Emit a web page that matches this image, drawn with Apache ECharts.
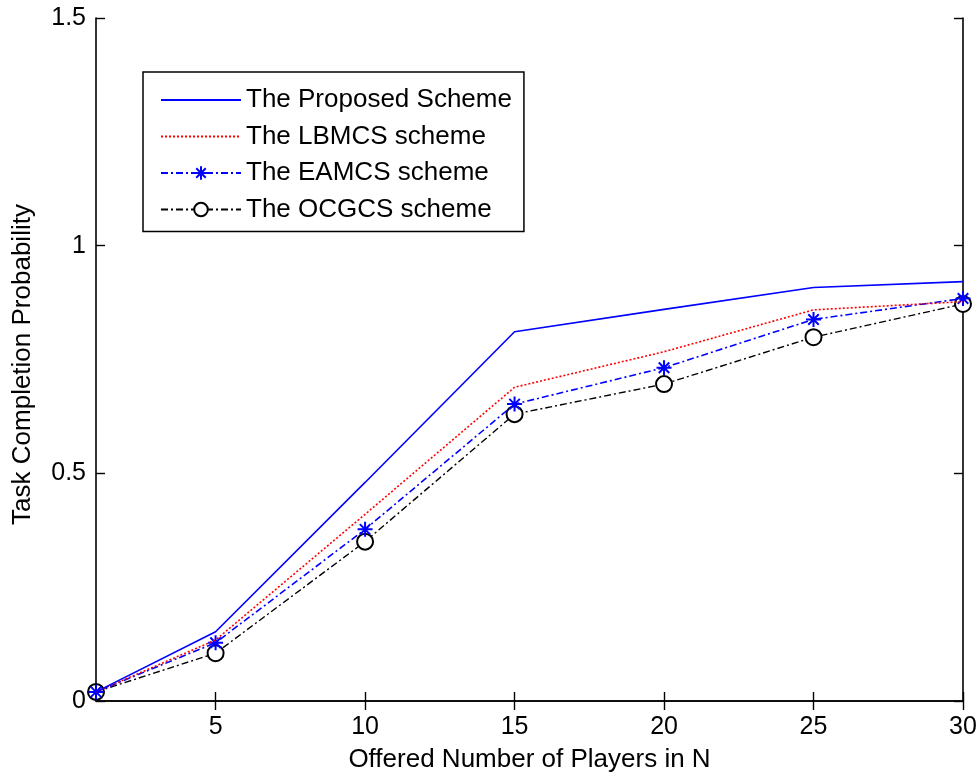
<!DOCTYPE html>
<html>
<head>
<meta charset="utf-8">
<script src="https://cdn.jsdelivr.net/npm/echarts@6/dist/echarts.min.js"></script>
<style>html,body{margin:0;padding:0;background:#fff;}#c{width:980px;height:775px;}</style>
</head>
<body>
<div id="c"></div>
<script>
const players = [1, 5, 10, 15, 20, 25, 30];
const proposed = [0.02, 0.152, 0.48, 0.811, 0.86, 0.908, 0.921];
const lbmcs = [0.02, 0.134, 0.41, 0.689, 0.767, 0.859, 0.877];
const eamcs = [0.02, 0.128, 0.377, 0.652, 0.732, 0.838, 0.884];
const ocgcs = [0.02, 0.105, 0.350, 0.630, 0.696, 0.799, 0.872];
const xTicks = [5, 10, 15, 20, 25, 30];
const yTicks = [0, 0.5, 1, 1.5];
const names = ['The Proposed Scheme', 'The LBMCS scheme', 'The EAMCS scheme', 'The OCGCS scheme'];

const pair = (ys) => players.map((x, i) => [x, ys[i]]);
const font = 'Liberation Sans, Arial, Helvetica, sans-serif';
const starPath = 'path://M0,-10L0,10M-10,0L10,0M-7,-7L7,7M-7,7L7,-7';

const axisLine = { show: true, lineStyle: { color: '#000', width: 1.6 } };
const tickIn = { show: true, inside: true, length: 9, lineStyle: { color: '#000', width: 1.4 } };
const hideSym = { color: 'rgba(0,0,0,0)', borderColor: 'rgba(0,0,0,0)', borderWidth: 0, opacity: 0 };

const chart = echarts.init(document.getElementById('c'), null, { renderer: 'canvas' });
chart.setOption({
  animation: false,
  backgroundColor: '#fff',
  grid: { left: 96, top: 18, right: 17, bottom: 74, outerBoundsMode: 'none', containLabel: false },
  legend: {
    orient: 'vertical',
    left: 143, top: 72,
    padding: [15, 12, 9, 17],
    itemWidth: 80, itemHeight: 17, itemGap: 10.5,
    borderColor: '#000', borderWidth: 1.5,
    backgroundColor: '#fff',
    textStyle: { fontFamily: font, fontSize: 26, color: '#000' },
    data: [
      { name: names[0], itemStyle: hideSym },
      { name: names[1], itemStyle: hideSym },
      { name: names[2] },
      { name: names[3] }
    ]
  },
  xAxis: [{
    type: 'value', min: 1, max: 30, position: 'bottom',
    name: 'Offered Number of Players in N', nameLocation: 'middle', nameGap: 46,
    nameTextStyle: { fontFamily: font, fontSize: 26, color: '#000' },
    axisLine: axisLine,
    axisTick: Object.assign({ customValues: xTicks }, tickIn),
    axisLabel: { customValues: xTicks, fontFamily: font, fontSize: 25, color: '#000', margin: 14 },
    splitLine: { show: false }
  }, {
    type: 'value', min: 1, max: 30, position: 'top',
    axisLine: axisLine,
    axisTick: Object.assign({ customValues: xTicks }, tickIn),
    axisLabel: { show: false, customValues: xTicks },
    splitLine: { show: false }
  }],
  yAxis: [{
    type: 'value', min: 0, max: 1.5, interval: 0.5, position: 'left',
    name: 'Task Completion Probability', nameLocation: 'middle', nameGap: 60,
    nameTextStyle: { fontFamily: font, fontSize: 26, color: '#000', padding: [0, 10, 0, 0] },
    axisLine: axisLine,
    axisTick: tickIn,
    axisLabel: { fontFamily: font, fontSize: 25, color: '#000', margin: 10,
      formatter: v => (yTicks.indexOf(v) >= 0 ? String(v) : '') },
    splitLine: { show: false }
  }, {
    type: 'value', min: 0, max: 1.5, interval: 0.5, position: 'right',
    axisLine: axisLine,
    axisTick: tickIn,
    axisLabel: { show: false },
    splitLine: { show: false }
  }],
  series: [{
    name: names[0], type: 'line', data: pair(proposed), symbol: 'none',
    lineStyle: { color: '#0000ff', width: 1.6, type: 'solid' },
    itemStyle: { color: '#0000ff' }, z: 5
  }, {
    name: names[1], type: 'line', data: pair(lbmcs), symbol: 'none',
    lineStyle: { color: '#ff0000', width: 1.6, type: [2, 2] },
    itemStyle: { color: '#ff0000' }, z: 4
  }, {
    name: names[2], type: 'line', data: pair(eamcs), symbol: starPath, symbolSize: 15,
    showSymbol: true,
    lineStyle: { color: '#0000ff', width: 1.6, type: [7, 3, 2, 3] },
    itemStyle: { color: '#0000ff', borderColor: '#0000ff', borderWidth: 2 }, z: 3
  }, {
    name: names[3], type: 'line', data: pair(ocgcs), symbol: 'emptyCircle', symbolSize: 16,
    showSymbol: true,
    lineStyle: { color: '#000', width: 1.4, type: [7, 3, 2, 3] },
    itemStyle: { color: '#000', borderColor: '#000', borderWidth: 1.8 }, z: 2
  }]
});
</script>
</body>
</html>
